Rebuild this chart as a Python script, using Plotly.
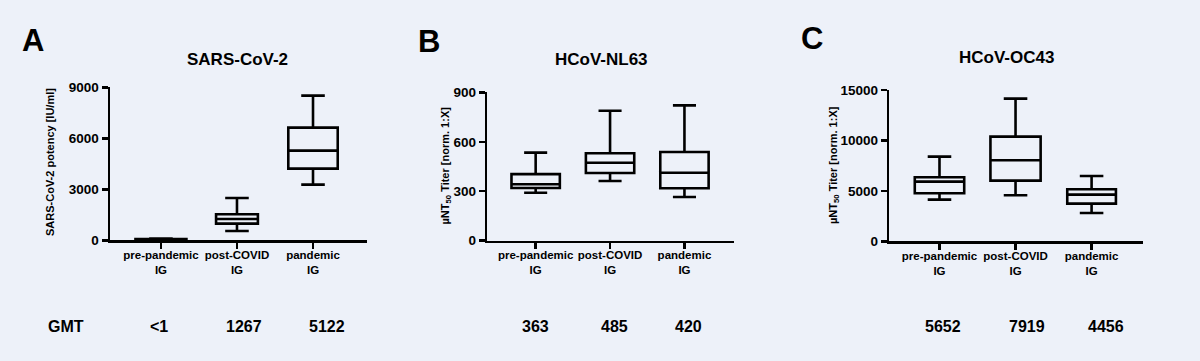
import plotly.graph_objects as go

# ---------------- data ----------------
categories = ["pre-pandemic<br>IG", "post-COVID<br>IG", "pandemic<br>IG"]

panel_letters = ["A", "B", "C"]
panel_titles = ["SARS-CoV-2", "HCoV-NL63", "HCoV-OC43"]
y_titles = ["SARS-CoV-2 potency [IU/ml]",
            "µNT<sub>50</sub> Titer [norm. 1:X]",
            "µNT<sub>50</sub> Titer [norm. 1:X]"]

# SARS-CoV-2 potency (IU/ml)
sars_low = [10, 550, 3275]
sars_q1 = [30, 980, 4216]
sars_med = [50, 1255, 5275]
sars_q3 = [80, 1530, 6630]
sars_high = [100, 2490, 8510]

# HCoV-NL63 titer
nl63_low = [291, 362, 265]
nl63_q1 = [320, 411, 318]
nl63_med = [342, 473, 412]
nl63_q3 = [404, 530, 538]
nl63_high = [534, 788, 821]

# HCoV-OC43 titer
oc43_low = [4130, 4560, 2808]
oc43_q1 = [4758, 6013, 3734]
oc43_med = [5914, 8029, 4626]
oc43_q3 = [6344, 10375, 5154]
oc43_high = [8392, 14141, 6476]

y_ticks = [[0, 3000, 6000, 9000], [0, 300, 600, 900], [0, 5000, 10000, 15000]]
y_ranges = [[0, 9000], [0, 900], [0, 15000]]

gmt_label = "GMT"
gmt_values = ["<1", "1267", "5122", "363", "485", "420", "5652", "7919", "4456"]

# ---------------- layout constants ----------------
W, H = 1200, 361
BG = "#EDF1F9"
FONT = "Liberation Sans, Arial, sans-serif"
box_widths = [[0.67, 0.55, 0.65], [0.65, 0.65, 0.65], [0.65, 0.66, 0.64]]

# plot-area pixel boxes (left, right, top, bottom)
areas = [(110, 367, 87.3, 240.3), (487.3, 734.3, 92.3, 240.7), (889.3, 1143.3, 90, 241.3)]
x_ranges = [[-0.67, 2.71], [-0.65, 2.67], [-0.66, 2.68]]

title_pos = [(237, 60), (601, 60), (1007, 57)]
letter_pos = [(33, 40), (429, 41), (812, 38)]
ytitle_pos = [(50, 162), (446, 165.5), (834, 165)]
gmt_x_px = [66, 159, 244, 327, 535, 614, 688, 943, 1027, 1106]
gmt_y_px = 326.7


def px(x):
    return x / W


def py(y):
    return 1 - y / H


fig = go.Figure()

stats = [
    (sars_low, sars_q1, sars_med, sars_q3, sars_high),
    (nl63_low, nl63_q1, nl63_med, nl63_q3, nl63_high),
    (oc43_low, oc43_q1, oc43_med, oc43_q3, oc43_high),
]

for p, (lo, q1, md, q3, hi) in enumerate(stats):
    xa = "x" if p == 0 else f"x{p + 1}"
    ya = "y" if p == 0 else f"y{p + 1}"
    for i, cat in enumerate(categories):
        bw = box_widths[p][i]
        fig.add_trace(go.Box(
            x=[cat], q1=[q1[i]], median=[md[i]], q3=[q3[i]],
            lowerfence=[lo[i]], upperfence=[hi[i]],
            width=bw, whiskerwidth=min(1.0, 0.31 / bw),
            line=dict(color="black", width=2.6),
            fillcolor="rgba(0,0,0,0)",
            boxpoints=False, showlegend=False, hoverinfo="skip",
            xaxis=xa, yaxis=ya,
        ))

layout = dict(
    width=W, height=H, autosize=False,
    margin=dict(l=0, r=0, t=0, b=0, pad=0),
    paper_bgcolor=BG, plot_bgcolor=BG,
    font=dict(family=FONT, color="black"),
    showlegend=False,
)

annotations = []
for p in range(3):
    l, r, t, b = areas[p]
    xkey = "xaxis" if p == 0 else f"xaxis{p + 1}"
    ykey = "yaxis" if p == 0 else f"yaxis{p + 1}"
    yanchor = "y" if p == 0 else f"y{p + 1}"
    xanchor = "x" if p == 0 else f"x{p + 1}"
    layout[xkey] = dict(
        domain=[px(l), px(r)], anchor=yanchor, automargin=False,
        type="category", categoryorder="array", categoryarray=categories,
        range=x_ranges[p],
        showline=True, linecolor="black", linewidth=2.5,
        ticks="outside", ticklen=6, tickwidth=2.5, tickcolor="black",
        ticklabelstandoff=-4,
        showgrid=False, zeroline=False,
        tickfont=dict(family=FONT, size=11.5, color="black", weight="bold"),
    )
    layout[ykey] = dict(
        domain=[py(b), py(t)], anchor=xanchor, automargin=False,
        range=y_ranges[p], tickvals=y_ticks[p], tickformat="d",
        showline=True, linecolor="black", linewidth=2.5,
        ticks="outside", ticklen=6, tickwidth=2.5, tickcolor="black",
        showgrid=False, zeroline=False,
        tickfont=dict(family=FONT, size=13.5, color="black", weight="bold"),
    )
    annotations.append(dict(
        text=panel_titles[p], x=px(title_pos[p][0]), y=py(title_pos[p][1]),
        xref="paper", yref="paper", xanchor="center", yanchor="middle",
        showarrow=False, font=dict(family=FONT, size=17, color="black", weight="bold"),
    ))
    annotations.append(dict(
        text=panel_letters[p], x=px(letter_pos[p][0]), y=py(letter_pos[p][1]),
        xref="paper", yref="paper", xanchor="center", yanchor="middle",
        showarrow=False, font=dict(family=FONT, size=31, color="black", weight="bold"),
    ))
    annotations.append(dict(
        text=y_titles[p], x=px(ytitle_pos[p][0]), y=py(ytitle_pos[p][1]),
        xref="paper", yref="paper", xanchor="center", yanchor="middle",
        textangle=-90, showarrow=False,
        font=dict(family=FONT, size=11, color="black", weight="bold"),
    ))

gmt_texts = [gmt_label] + gmt_values
for xpx, txt in zip(gmt_x_px, gmt_texts):
    annotations.append(dict(
        text=txt, x=px(xpx), y=py(gmt_y_px),
        xref="paper", yref="paper", xanchor="center", yanchor="middle",
        showarrow=False, font=dict(family=FONT, size=16, color="black", weight="bold"),
    ))

layout["annotations"] = annotations
fig.update_layout(**layout)
fig.write_html(
    "out.html",
    config={"displayModeBar": False, "staticPlot": True},
    post_script="document.body.style.margin='0';document.body.style.padding='0';"
                "document.body.style.background='" + BG + "';",
)
